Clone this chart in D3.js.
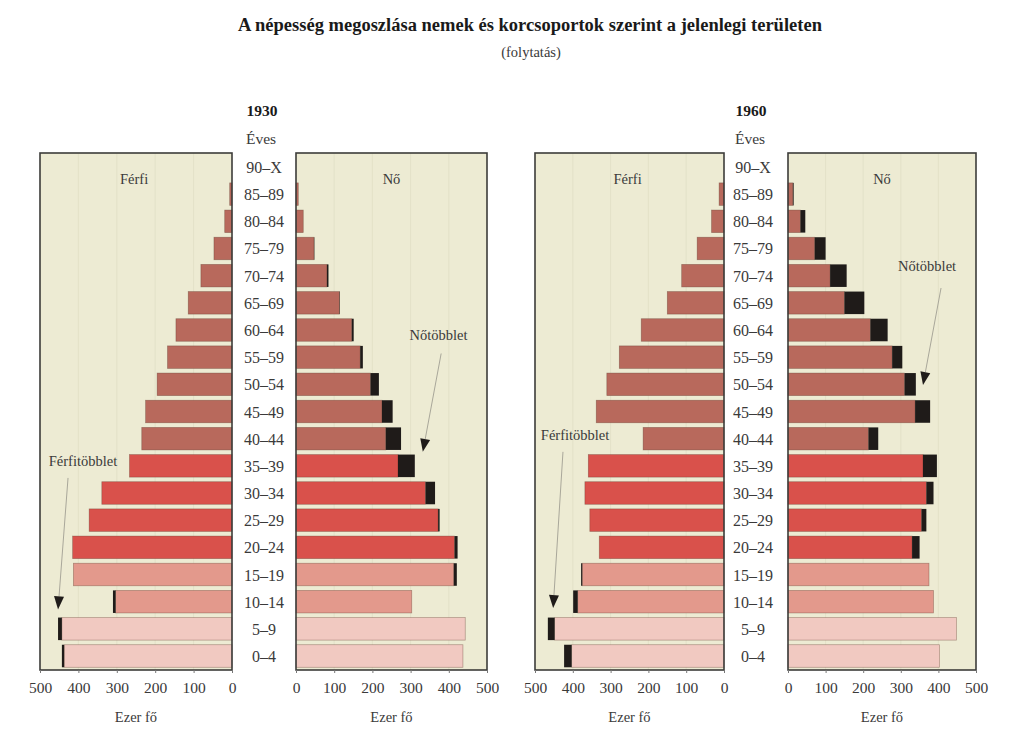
<!DOCTYPE html>
<html>
<head>
<meta charset="utf-8">
<script src="https://cdn.jsdelivr.net/npm/d3@7"></script>
<style>
  html, body { margin: 0; padding: 0; background: #ffffff; }
  svg { display: block; }
  text { font-family: "Liberation Serif", "DejaVu Serif", serif; }
</style>
</head>
<body>
<svg id="chart" width="1023" height="747"></svg>
<script>
// ---------------- DATA ----------------
const ages = ["90–X","85–89","80–84","75–79","70–74","65–69","60–64","55–59","50–54",
              "45–49","40–44","35–39","30–34","25–29","20–24","15–19","10–14","5–9","0–4"];

// thousands of persons, top row (90–X) to bottom row (0–4)
const male1930   = [0, 6, 19, 47, 81, 114, 146, 168, 195, 225, 235, 267, 339, 372, 415, 413, 310, 453, 443];
const female1930 = [0, 6, 19, 48, 85, 115, 151, 175, 217, 253, 275, 311, 364, 376, 423, 421, 303, 443, 437];

const male1960   = [0, 13, 33, 71, 112, 150, 219, 277, 310, 338, 214, 359, 368, 355, 330, 378, 399, 466, 423];
const female1960 = [0, 15, 46, 100, 156, 203, 265, 304, 340, 378, 240, 396, 387, 368, 350, 375, 387, 448, 403];

const tickValues = [0, 100, 200, 300, 400, 500];
const years = ["1930", "1960"];

// ---------------- LAYOUT ----------------
const svg = d3.select("#chart");

const panelTop = 153, panelBottom = 670;
const pyramids = [
  { year: years[0], male: male1930, female: female1930,
    mx: [232, 40], fx: [296, 487], mid: 264,
    ann: [
      { side: "f", text: "Nőtöbblet",    tv: 373, tr: 6.78, sv: 380, sr: 7.28, ev: 332, er: 10.9 },
      { side: "m", text: "Férfitöbblet", tv: 388, tr: 11.42, sv: 427, sr: 11.86, ev: 453, er: 16.7 }
    ] },
  { year: years[1], male: male1960, female: female1960,
    mx: [724, 535], fx: [788, 976], mid: 753,
    ann: [
      { side: "f", text: "Nőtöbblet",    tv: 370, tr: 4.24, sv: 407, sr: 4.87, ev: 359, er: 8.44 },
      { side: "m", text: "Férfitöbblet", tv: 394, tr: 10.46, sv: 426, sr: 10.9, ev: 452, er: 16.65 }
    ] }
];

const y = d3.scaleBand().domain(ages).range([panelTop, panelBottom])
  .paddingInner(0.17).paddingOuter(0.1);
const rowY = r => y(ages[0]) + r * y.step();

function barColor(i) {
  const lo = parseInt(ages[i], 10);
  if (lo >= 40) return "#b8695c";
  if (lo >= 20) return "#d9514b";
  if (lo >= 10) return "#e3998c";
  return "#f1c9c1";
}

const panelFill = "#edebd3";
const excessColor = "#1f1b19";
const textColor = "#3a3a3a";

// Title
svg.append("text").attr("x", 530).attr("y", 31).attr("text-anchor", "middle")
  .attr("font-size", 18.5).attr("font-weight", "bold").attr("fill", "#1a1a1a")
  .text("A népesség megoszlása nemek és korcsoportok szerint a jelenlegi területen");
svg.append("text").attr("x", 531).attr("y", 57).attr("text-anchor", "middle")
  .attr("font-size", 14.5).attr("fill", textColor).text("(folytatás)");

pyramids.forEach(p => {
  const xm = d3.scaleLinear().domain([0, 500]).range(p.mx);
  const xf = d3.scaleLinear().domain([0, 500]).range(p.fx);
  const g = svg.append("g");

  g.append("text").attr("x", p.mid - 2).attr("y", 116).attr("text-anchor", "middle")
    .attr("font-size", 15.5).attr("font-weight", "bold").attr("fill", "#1a1a1a").text(p.year);
  g.append("text").attr("x", p.mid - 3).attr("y", 144).attr("text-anchor", "middle")
    .attr("font-size", 15.5).attr("fill", textColor).text("Éves");

  [["m", xm, p.male, p.female], ["f", xf, p.female, p.male]].forEach(([side, xs, own, other]) => {
    const r = xs.range();
    const x0 = Math.min(r[0], r[1]), x1 = Math.max(r[0], r[1]);
    const pg = g.append("g");

    pg.append("rect").attr("x", x0).attr("y", panelTop)
      .attr("width", x1 - x0).attr("height", panelBottom - panelTop)
      .attr("fill", panelFill);

    pg.selectAll("line.grid").data(tickValues.slice(1, -1)).join("line")
      .attr("class", "grid")
      .attr("x1", d => xs(d)).attr("x2", d => xs(d))
      .attr("y1", panelTop).attr("y2", panelBottom)
      .attr("stroke", "rgba(120,110,80,0.08)").attr("stroke-width", 1);

    const rows = own.map((v, i) => ({ v, o: other[i], i }));

    pg.selectAll("rect.bar").data(rows).join("rect")
      .attr("class", "bar")
      .attr("x", d => Math.min(xs(0), xs(Math.min(d.v, d.o))))
      .attr("width", d => Math.abs(xs(Math.min(d.v, d.o)) - xs(0)))
      .attr("y", d => y(ages[d.i]))
      .attr("height", y.bandwidth())
      .attr("fill", d => barColor(d.i))
      .attr("stroke", "rgba(90,50,40,0.45)").attr("stroke-width", 0.7);

    pg.selectAll("rect.excess").data(rows.filter(d => d.v > d.o)).join("rect")
      .attr("class", "excess")
      .attr("x", d => Math.min(xs(d.o), xs(d.v)))
      .attr("width", d => Math.abs(xs(d.v) - xs(d.o)))
      .attr("y", d => y(ages[d.i]))
      .attr("height", y.bandwidth())
      .attr("fill", excessColor);

    pg.append("rect").attr("x", x0).attr("y", panelTop)
      .attr("width", x1 - x0).attr("height", panelBottom - panelTop)
      .attr("fill", "none").attr("stroke", "#3c3c3a").attr("stroke-width", 1.6);

    const ax = pg.append("g").attr("transform", `translate(0,${panelBottom})`)
      .call(d3.axisBottom(xs).tickValues(tickValues).tickSize(3).tickPadding(9).tickFormat(d3.format("d")));
    ax.select(".domain").remove();
    ax.selectAll("line").attr("stroke", "#777");
    ax.selectAll("text").attr("font-size", 15.5).attr("fill", textColor)
      .attr("font-family", "Liberation Serif, serif");

    pg.append("text").attr("x", (x0 + x1) / 2).attr("y", 722).attr("text-anchor", "middle")
      .attr("font-size", 14.5).attr("fill", textColor).text("Ezer fő");

    pg.append("text").attr("x", side === "m" ? xs(255) : xs(250)).attr("y", 184)
      .attr("text-anchor", "middle").attr("font-size", 14.5).attr("fill", textColor)
      .text(side === "m" ? "Férfi" : "Nő");
  });

  g.selectAll("text.age").data(ages).join("text").attr("class", "age")
    .attr("x", p.mid).attr("y", d => y(d) + y.bandwidth() / 2 + 6)
    .attr("text-anchor", "middle").attr("font-size", 16).attr("fill", textColor)
    .text(d => d);

  p.ann.forEach(a => {
    const xs = a.side === "m" ? xm : xf;
    g.append("text").attr("x", xs(a.tv)).attr("y", rowY(a.tr)).attr("text-anchor", "middle")
      .attr("font-size", 14.5).attr("fill", textColor).text(a.text);
    const sx = xs(a.sv), sy = rowY(a.sr), ex = xs(a.ev), ey = rowY(a.er);
    const ang = Math.atan2(ey - sy, ex - sx);
    const L = 13, hw = 5;
    const bx = ex - L * Math.cos(ang), by = ey - L * Math.sin(ang);
    g.append("line").attr("x1", sx).attr("y1", sy).attr("x2", bx).attr("y2", by)
      .attr("stroke", "#a9a79a").attr("stroke-width", 1);
    const px = -Math.sin(ang), py = Math.cos(ang);
    g.append("path")
      .attr("d", `M${ex},${ey}L${bx + hw * px},${by + hw * py}L${bx - hw * px},${by - hw * py}Z`)
      .attr("fill", excessColor);
  });
});
</script>
</body>
</html>
